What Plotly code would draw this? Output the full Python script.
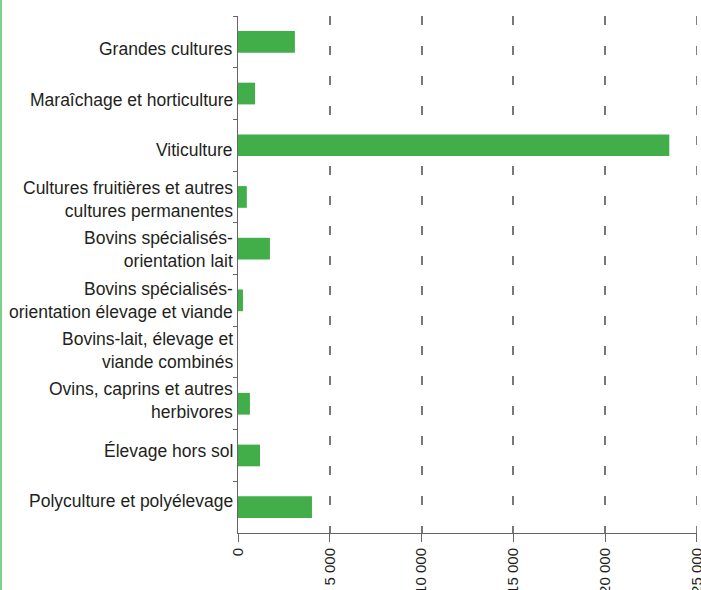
import plotly.graph_objects as go

# -------------------------------
# Data
# -------------------------------
categories = [
    "Grandes cultures",
    "Maraîchage et horticulture",
    "Viticulture",
    "Cultures fruitières et autres<br>cultures permanentes",
    "Bovins spécialisés-<br>orientation lait",
    "Bovins spécialisés-<br>orientation élevage et viande",
    "Bovins-lait, élevage et<br>viande combinés",
    "Ovins, caprins et autres<br>herbivores",
    "Élevage hors sol",
    "Polyculture et polyélevage",
]
values = [3100, 930, 23500, 480, 1740, 270, 0, 650, 1200, 4030]

x_tickvals = [0, 5000, 10000, 15000, 20000, 25000]
x_ticktext = ["0", "5 000", "10 000", "15 000", "20 000", "25 000"]

# -------------------------------
# Figure
# -------------------------------
W, H = 701, 590
ML, MR, MT, MB = 238, 4, 16, 57
FONT = "Liberation Sans, Arial, sans-serif"
TEXT = "#231f20"
AXIS = "#666666"
GRID = "#777777"

fig = go.Figure(
    go.Bar(
        x=values,
        y=categories,
        orientation="h",
        marker=dict(color="#42ae4a", line=dict(width=0)),
    )
)

fig.update_layout(
    width=W,
    height=H,
    margin=dict(l=ML, r=MR, t=MT, b=MB, pad=0),
    plot_bgcolor="white",
    paper_bgcolor="white",
    bargap=0.58,
    showlegend=False,
    font=dict(family=FONT, size=17.5, color=TEXT),
)

fig.update_xaxes(
    range=[0, 25010],
    tickvals=x_tickvals,
    ticktext=x_ticktext,
    tickangle=-90,
    tickfont=dict(size=15),
    ticklabeloverflow="allow",
    ticks="outside",
    ticklen=8,
    tickcolor=AXIS,
    showline=True,
    linecolor=AXIS,
    linewidth=1,
    showgrid=True,
    gridcolor=GRID,
    gridwidth=1.5,
    griddash="9px,21px",
    zeroline=False,
    automargin=False,
)

fig.update_yaxes(
    categoryorder="array",
    categoryarray=categories,
    autorange="reversed",
    tickson="boundaries",
    ticks="outside",
    ticklen=4,
    tickcolor=AXIS,
    showline=True,
    linecolor=AXIS,
    linewidth=1,
    showgrid=False,
    showticklabels=False,
    automargin=False,
)

# category labels: in the original they drift slightly against the rows
# (a bit low at the top, a bit high at the bottom)
for i, cat in enumerate(categories):
    fig.add_annotation(
        x=0,
        xref="paper",
        y=cat,
        yref="y",
        text=cat,
        showarrow=False,
        xanchor="right",
        yanchor="middle",
        align="right",
        xshift=-3,
        yshift=-(7.5 - 1.55 * i),
        font=dict(size=17.5, color=TEXT),
    )

# last gridline sits on the plot edge, plotly drops it
fig.add_shape(
    type="line",
    xref="x",
    yref="paper",
    x0=25000,
    x1=25000,
    y0=1,
    y1=0,
    line=dict(color=GRID, width=1.5, dash="9px,21px"),
)

# thin green rule along the left edge of the page
pw = W - ML - MR
ph = H - MT - MB
fig.add_shape(
    type="line",
    xref="paper",
    yref="paper",
    x0=(1 - ML) / pw,
    x1=(1 - ML) / pw,
    y0=-MB / ph,
    y1=(H - MB) / ph,
    line=dict(color="#7fd08a", width=2),
)

# page has a default body margin; drop it so the figure sits at the corner
fig.write_html(
    "out.html",
    config={"displayModeBar": False},
    post_script="document.body.style.margin='0px';",
)
